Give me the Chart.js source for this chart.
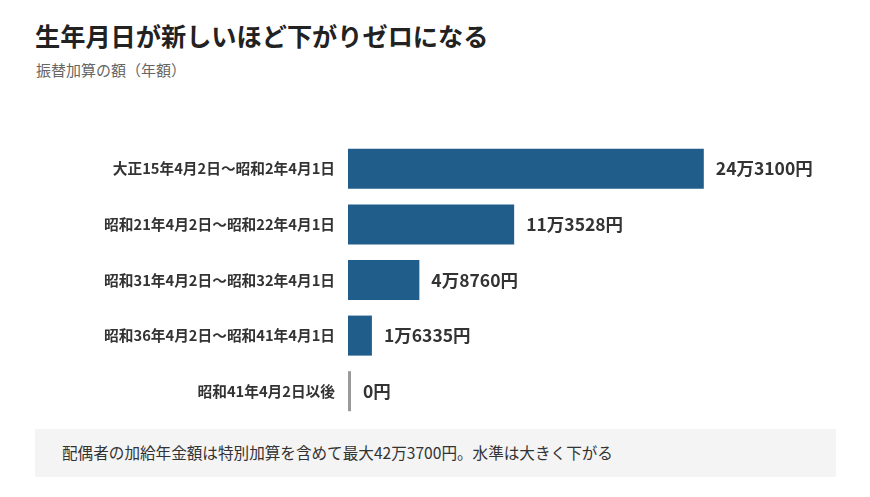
<!DOCTYPE html>
<html lang="ja">
<head>
<meta charset="utf-8">
<script src="https://cdn.jsdelivr.net/npm/chart.js@4"></script>
<style>
  html, body { margin: 0; padding: 0; background: #fff; }
  body { width: 870px; height: 497px; position: relative; overflow: hidden; font-family: "Noto Sans CJK JP", "Noto Sans", sans-serif; }
  #title { position: absolute; left: 35px; top: 23px; font-size: 25.2px; line-height: 1; font-weight: bold; color: #222; white-space: nowrap; }
  #subtitle { position: absolute; left: 36px; top: 62px; font-size: 15px; line-height: 1; color: #666; white-space: nowrap; }
  #chartWrap { position: absolute; left: 0; top: 120px; width: 870px; height: 310px; }
  #note { position: absolute; left: 35px; top: 429px; width: 801px; height: 48px; background: #f4f4f4; }
  #note span { position: absolute; left: 27px; top: 16px; font-size: 15.6px; line-height: 1; color: #333; white-space: nowrap; }
</style>
</head>
<body>
<div id="title">生年月日が新しいほど下がりゼロになる</div>
<div id="subtitle">振替加算の額（年額）</div>
<div id="chartWrap"><canvas id="chart"></canvas></div>
<div id="note"><span>配偶者の加給年金額は特別加算を含めて最大42万3700円。水準は大きく下がる</span></div>
<script>
"use strict";

// Data
const categories = [
    "大正15年4月2日～昭和2年4月1日",
    "昭和21年4月2日～昭和22年4月1日",
    "昭和31年4月2日～昭和32年4月1日",
    "昭和36年4月2日～昭和41年4月1日",
    "昭和41年4月2日以後"
];
const amounts = [243100, 113528, 48760, 16335, 0];

const barColor = "#215d8b";
const zeroColor = "#9a9a9a";

// "243100" -> "24万3100円"
const formatYen = (v) => {
    if (v < 10000) return v + "円";
    return Math.floor(v / 10000) + "万" + String(v % 10000).padStart(4, "0") + "円";
};

// Value labels at the end of each bar
const valueLabels = {
    id: "valueLabels",
    afterDatasetsDraw(chart) {
        const ctx = chart.ctx;
        const meta = chart.getDatasetMeta(0);
        ctx.save();
        ctx.font = "bold 17.5px 'Noto Sans CJK JP'";
        ctx.fillStyle = "#333";
        ctx.textAlign = "left";
        ctx.textBaseline = "middle";
        meta.data.forEach((bar, i) => {
            const end = Math.max(bar.x, bar.base);
            ctx.fillText(formatYen(amounts[i]), end + 12, bar.y);
        });
        ctx.restore();
    }
};

const ctx = document.getElementById("chart").getContext("2d");
new Chart(ctx, {
    type: "bar",
    data: {
        labels: categories,
        datasets: [{
            data: amounts,
            backgroundColor: amounts.map(v => v === 0 ? zeroColor : barColor),
            barPercentage: 0.72,
            categoryPercentage: 1,
            minBarLength: 3
        }]
    },
    options: {
        indexAxis: "y",
        responsive: true,
        maintainAspectRatio: false,
        animation: false,
        layout: { padding: { top: 21, bottom: 11, left: 0, right: 39 } },
        plugins: {
            legend: { display: false },
            tooltip: { enabled: false }
        },
        scales: {
            x: {
                display: false,
                min: 0,
                max: 330000
            },
            y: {
                grid: { display: false, drawTicks: false },
                border: { display: false },
                ticks: {
                    color: "#333",
                    padding: 13,
                    font: { family: "'Noto Sans CJK JP'", size: 14.7, weight: "bold" }
                },
                afterFit(scale) {
                    scale.width = 348;
                    // labels sit inside their bands, no extra room needed
                    scale.paddingTop = 0;
                    scale.paddingBottom = 0;
                }
            }
        }
    },
    plugins: [valueLabels]
});
</script>
</body>
</html>
